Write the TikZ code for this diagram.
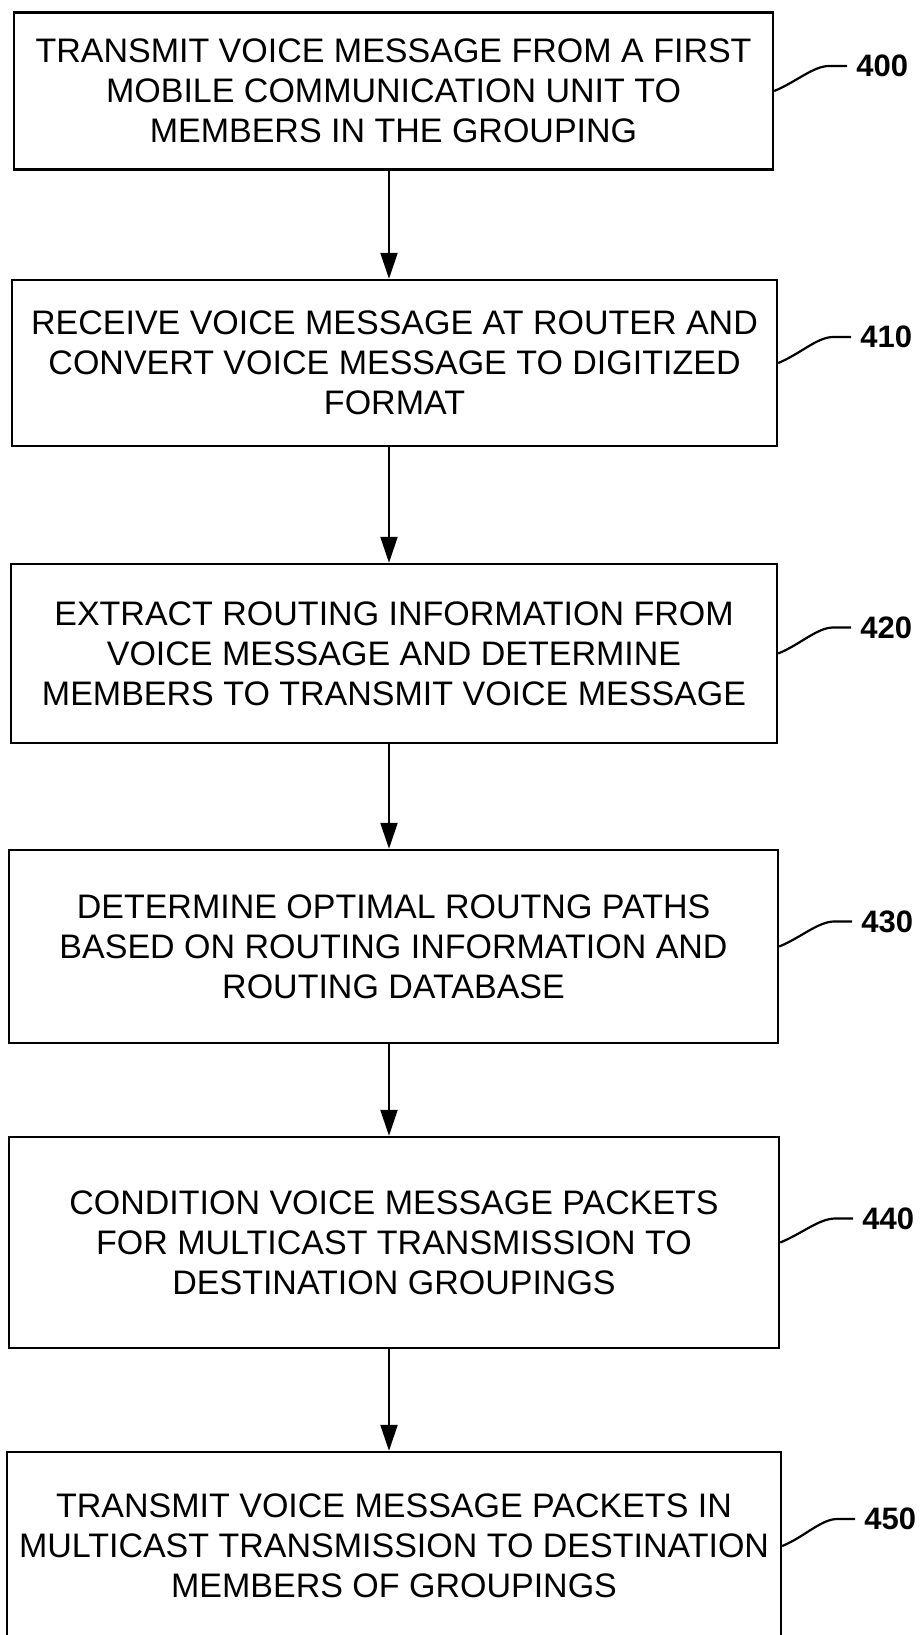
\documentclass[tikz,border=0pt]{standalone}
\usepackage{fontspec}
\setmainfont{Liberation Sans}
\usetikzlibrary{positioning,arrows.meta}

\tikzset{
        stepbox/.style={draw, line width=2.4pt, align=center, inner sep=0pt,
                font=\fontsize{34}{40}\selectfont},
        tag/.style={anchor=west, inner sep=5pt, font=\fontsize{31}{36}\selectfont\bfseries},
        lead/.style={line width=2.2pt},
        flow/.style={line width=2.2pt, -{Triangle[width=17pt,length=26pt]}}
}

\begin{document}
\begin{tikzpicture}[x=1pt, y=-1pt]
        \useasboundingbox (0,0) rectangle (922,1635);

        \node at (393.5,91) [stepbox, minimum width=759pt, minimum height=157pt] (b1) {TRANSMIT VOICE MESSAGE FROM A FIRST\\MOBILE COMMUNICATION UNIT TO\\MEMBERS IN THE GROUPING};
        \node at (394.5,363) [stepbox, minimum width=765pt, minimum height=166pt] (b2) {RECEIVE VOICE MESSAGE AT ROUTER AND\\CONVERT VOICE MESSAGE TO DIGITIZED\\FORMAT};
        \node at (394,653.5) [stepbox, minimum width=766pt, minimum height=179pt] (b3) {EXTRACT ROUTING INFORMATION FROM\\VOICE MESSAGE AND DETERMINE\\MEMBERS TO TRANSMIT VOICE MESSAGE};
        \node at (393.5,946.5) [stepbox, minimum width=769pt, minimum height=193pt] (b4) {DETERMINE OPTIMAL ROUTNG PATHS\\BASED ON ROUTING INFORMATION AND\\ROUTING DATABASE};
        \node at (394,1242.5) [stepbox, minimum width=770pt, minimum height=211pt] (b5) {CONDITION VOICE MESSAGE PACKETS\\FOR MULTICAST TRANSMISSION TO\\DESTINATION GROUPINGS};
        \node at (394,1546) [stepbox, minimum width=774pt, minimum height=188pt] (b6) {TRANSMIT VOICE MESSAGE PACKETS IN\\MULTICAST TRANSMISSION TO DESTINATION\\MEMBERS OF GROUPINGS};

        \coordinate (axis) at (389,0);
        \draw[flow] (b1.south -| axis) -- (b2.north -| axis);
        \draw[flow] (b2.south -| axis) -- (b3.north -| axis);
        \draw[flow] (b3.south -| axis) -- (b4.north -| axis);
        \draw[flow] (b4.south -| axis) -- (b5.north -| axis);
        \draw[flow] (b5.south -| axis) -- (b6.north -| axis);

        \node at ([xshift=77pt,yshift=25pt]b1.east) [tag] (t1) {400};
        \node at ([xshift=77pt,yshift=26pt]b2.east) [tag] (t2) {410};
        \node at ([xshift=77pt,yshift=26pt]b3.east) [tag] (t3) {420};
        \node at ([xshift=77pt,yshift=25pt]b4.east) [tag] (t4) {430};
        \node at ([xshift=77pt,yshift=24pt]b5.east) [tag] (t5) {440};
        \node at ([xshift=77pt,yshift=27pt]b6.east) [tag] (t6) {450};

        \draw[lead] (b1.east) .. controls +(22,-9) and +(-16,0) .. ([xshift=-22pt]t1.west) -- ([xshift=-4pt]t1.west);
        \draw[lead] (b2.east) .. controls +(22,-9) and +(-16,0) .. ([xshift=-22pt]t2.west) -- ([xshift=-4pt]t2.west);
        \draw[lead] (b3.east) .. controls +(22,-9) and +(-16,0) .. ([xshift=-22pt]t3.west) -- ([xshift=-4pt]t3.west);
        \draw[lead] (b4.east) .. controls +(22,-9) and +(-16,0) .. ([xshift=-22pt]t4.west) -- ([xshift=-4pt]t4.west);
        \draw[lead] (b5.east) .. controls +(22,-9) and +(-16,0) .. ([xshift=-22pt]t5.west) -- ([xshift=-4pt]t5.west);
        \draw[lead] (b6.east) .. controls +(22,-9) and +(-16,0) .. ([xshift=-22pt]t6.west) -- ([xshift=-4pt]t6.west);
\end{tikzpicture}
\end{document}
